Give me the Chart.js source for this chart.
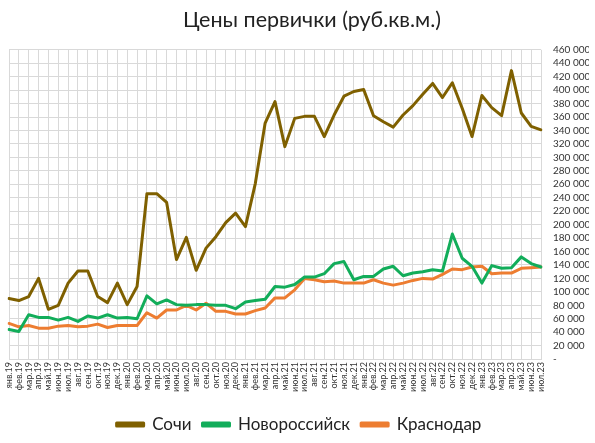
<!DOCTYPE html>
<html>
<head>
<meta charset="utf-8">
<script src="https://cdn.jsdelivr.net/npm/chart.js@4/dist/chart.umd.min.js"></script>
<style>
  html, body { margin: 0; padding: 0; background: #fff; }
  #wrap { width: 595px; height: 443px; }
</style>
</head>
<body>
<div id="wrap"><canvas id="grafico"></canvas></div>
<script>
// месяцы янв.19 - июл.23
const meses = ['янв', 'фев', 'мар', 'апр', 'май', 'июн', 'июл', 'авг', 'сен', 'окт', 'ноя', 'дек'];
const etiquetas = [];
for (let a = 19; a <= 23; a++) {
    for (let m = 0; m < 12; m++) {
        if (a === 23 && m > 6) break;
        etiquetas.push(meses[m] + '.' + a);
    }
}

const sochi = [90000, 87000, 93000, 120000, 74000, 80000, 113000, 131000, 131000, 93000, 84000, 113000, 81000, 108000,
    246000, 246000, 233000, 148000, 181000, 132000, 165000, 182000, 203000, 217000, 197000, 261000, 351000,
    383000, 316000, 358000, 361000, 361000, 331000, 363000, 391000, 398000, 401000, 362000, 353000, 345000,
    363000, 377000, 394000, 410000, 389000, 411000, 373000, 331000, 392000, 374000, 362000, 429000, 366000, 346000, 341000];

const novorossiysk = [44000, 41000, 66000, 62000, 62000, 58000, 62000, 56000, 64000, 61000, 66000, 61000, 62000, 60000,
    94000, 82000, 88000, 81000, 80000, 81000, 81000, 80000, 80000, 75000, 85000, 87000, 89000,
    108000, 107000, 111000, 122000, 122000, 127000, 142000, 145000, 118000, 123000, 123000, 134000, 138000,
    124000, 128000, 130000, 133000, 131000, 186000, 150000, 138000, 113000, 139000, 135000, 136000, 152000, 142000, 137000];

const krasnodar = [53000, 48000, 50000, 46000, 46000, 49000, 50000, 48000, 49000, 52000, 47000, 50000, 50000, 50000,
    69000, 61000, 73000, 73000, 80000, 73000, 83000, 71000, 71000, 67000, 67000, 72000, 76000,
    91000, 91000, 103000, 120000, 118000, 115000, 116000, 113000, 113000, 113000, 118000, 113000, 110000,
    113000, 117000, 120000, 119000, 126000, 134000, 133000, 137000, 138000, 127000, 128000, 128000, 135000, 136000, 137000];

const colores = ['#7F6000', '#12AD5A', '#ED7D31'];

function miles(v) {
    if (v === 0) return '-';
    return String(v).replace(/\B(?=(\d{3})+(?!\d))/g, ' ');
}

// el titulo va un poco a la derecha, como en Excel
const moverTitulo = {
    id: 'moverTitulo',
    afterLayout(chart) {
        const t = chart.titleBlock;
        if (t) { t.left += 13; t.right += 13; }
    }
};

const ctx = document.getElementById('grafico');
const myChart = new Chart(ctx, {
    type: 'line',
    data: {
        labels: etiquetas,
        datasets: [
            { label: 'Сочи', data: sochi, borderColor: colores[0], backgroundColor: colores[0] },
            { label: 'Новороссийск', data: novorossiysk, borderColor: colores[1], backgroundColor: colores[1] },
            { label: 'Краснодар', data: krasnodar, borderColor: colores[2], backgroundColor: colores[2] }
        ]
    },
    plugins: [moverTitulo],
    options: {
        responsive: true,
        maintainAspectRatio: false,
        animation: false,
        elements: {
            line: { borderWidth: 3, tension: 0, borderJoinStyle: 'round', borderCapStyle: 'round' },
            point: { radius: 0 }
        },
        layout: { padding: { left: 9, right: 6, top: 0, bottom: 0 } },
        plugins: {
            title: {
                display: true,
                text: 'Цены первички (руб.кв.м.)',
                color: '#222',
                font: { family: 'Lato', size: 21.5, weight: 'normal' },
                padding: { top: 7, bottom: 17 }
            },
            legend: {
                position: 'bottom',
                labels: {
                    color: '#222',
                    font: { family: 'Lato', size: 17 },
                    boxWidth: 27,
                    boxHeight: 3,
                    padding: 11
                }
            },
            tooltip: { enabled: false }
        },
        scales: {
            x: {
                offset: false,
                grid: { color: '#d9d9d9', lineWidth: 1, drawTicks: false },
                border: { color: '#d9d9d9' },
                afterFit: (scale) => { scale.height += 10; },
                ticks: {
                    autoSkip: false,
                    maxRotation: 90,
                    minRotation: 90,
                    padding: 3,
                    color: '#333',
                    font: { family: 'Lato', size: 9 }
                }
            },
            y: {
                position: 'right',
                min: 0,
                max: 460000,
                grid: { color: '#d9d9d9', lineWidth: 1, drawTicks: false },
                border: { display: false },
                afterFit: (scale) => { scale.width = 48; },
                ticks: {
                    autoSkip: false,
                    stepSize: 20000,
                    padding: 12,
                    color: '#333',
                    font: { family: 'Lato', size: 10 },
                    callback: (v) => miles(v)
                }
            }
        }
    }
});
</script>
</body>
</html>
